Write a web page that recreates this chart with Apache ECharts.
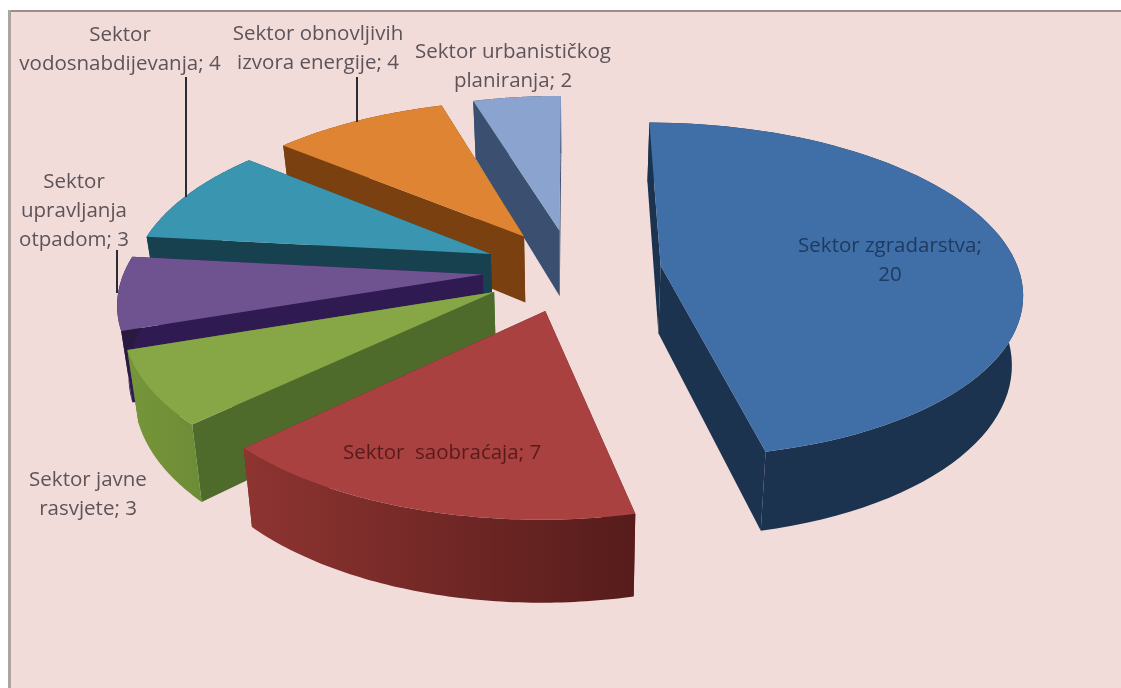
<!DOCTYPE html>
<html><head><meta charset="utf-8">
<style>html,body{margin:0;padding:0;background:#fff}#c{width:1121px;height:688px}</style>
<script src="https://cdn.jsdelivr.net/npm/echarts@6/dist/echarts.min.js"></script>
</head><body><div id="c"></div>
<script>
// ---- data
const categories = ['Sektor zgradarstva','Sektor saobraćaja','Sektor javne rasvjete','Sektor upravljanja otpadom','Sektor vodosnabdijevanja','Sektor obnovljivih izvora energije','Sektor urbanističkog planiranja'];
const values = [20,7,3,3,4,4,2];
const labelTexts = ['Sektor zgradarstva;\n20','Sektor  saobraćaja; 7','Sektor javne\nrasvjete; 3','Sektor\nupravljanja\notpadom; 3','Sektor\nvodosnabdijevanja; 4','Sektor obnovljivih\nizvora energije; 4','Sektor urbanističkog\nplaniranja; 2'];
// ---- style tables
const topColors  = ['#3f6fa6','#a8413f','#87a746','#6f5290','#3a96b0','#df8432','#8ba4cf'];
const sideColors = ['#1c3350','#6a2220','#4f6b2c','#2f1a52','#17414f','#7a4010','#3b4f70'];
const arcColors  = [['#1c3350','#1c3350'],['#8e3431','#561c1b'],['#76963a','#6d8c36'],['#2a1a40','#2a1a40'],['#17414f','#17414f'],['#7a4010','#7a4010'],['#3b4f70','#3b4f70']];
const textColors = ['#1f3a60','#5a1a1c','#5d5359','#5d5359','#5d5359','#5d5359','#5d5359'];
const labelCenters = [[890,261],[442,453],[88,495],[74,211],[120,50],[318,49],[513,67]];
const leaders = [null,null,null,[117,250,117,293],[186,77,186,197],[357,77,357,122],null];
const explodeBySlice = [0.25,0.25,0.25,0.25,0.25,0.25,0.25];
// ---- projection of the tilted pie
const view = {cx:572, cy:270, A:358, B:165, p:0.146, h:68, converge:0.025};
function project(X,Y,drop){
  const w = 1 - view.p*Y;
  const x = view.cx + view.A*X/w;
  return [x - view.converge*(x-view.cx)*drop/view.h, view.cy + view.B*Y/w + drop/w];
}
const total = values.reduce((a,b)=>a+b,0);
function renderItem(params, api){
  const i = api.value(0), v = api.value(1);
  let sum = 0; for(let k=0;k<i;k++) sum += values[k];
  const a0 = sum/total*2*Math.PI, a1 = (sum+v)/total*2*Math.PI, m = (a0+a1)/2;
  const X0 = explodeBySlice[i]*Math.sin(m), Y0 = -explodeBySlice[i]*Math.cos(m);
  const n = 72, arc = [];
  for(let k=0;k<=n;k++){
    const a = a0+(a1-a0)*k/n;
    arc.push([X0+Math.sin(a), Y0-Math.cos(a)]);
  }
  const poly = (pts,fill)=>({type:'polygon',shape:{points:pts},style:{fill:fill},silent:true});
  const P = (q,d)=>project(q[0],q[1],d);
  const apex=[X0,Y0], first=arc[0], last=arc[n], h=view.h;
  const children=[];
  children.push(poly([P(apex,0),P(first,0),P(first,h),P(apex,h)],sideColors[i]));
  children.push(poly([P(apex,0),P(last,0),P(last,h),P(apex,h)],sideColors[i]));
  const wall = arc.map(q=>P(q,0)).concat(arc.slice().reverse().map(q=>P(q,h)));
  children.push(poly(wall,{type:'linear',x:0,y:0,x2:1,y2:0,colorStops:[{offset:0,color:arcColors[i][0]},{offset:1,color:arcColors[i][1]}]}));
  children.push(poly([P(apex,0)].concat(arc.map(q=>P(q,0))),topColors[i]));
  if(leaders[i]){
    const l=leaders[i];
    children.push({type:'line',shape:{x1:l[0],y1:l[1],x2:l[2],y2:l[3]},style:{stroke:'#2b2b33',lineWidth:2},silent:true});
  }
  children.push({type:'text',x:labelCenters[i][0],y:labelCenters[i][1],silent:true,
    style:{text:labelTexts[i],fill:textColors[i],font:'20.5px "Open Sans"',align:'center',verticalAlign:'middle',lineHeight:29}});
  return {type:'group',children:children};
}
const chart = echarts.init(document.getElementById('c'),null,{renderer:'canvas'});
chart.setOption({
  animation:false,
  backgroundColor:'#fff',
  graphic:[
    {type:'rect',z:-10,shape:{x:8,y:10,width:1113,height:678},style:{fill:'#f1dcda'}},
    {type:'rect',z:-9,shape:{x:8,y:10,width:1113,height:2},style:{fill:'#a38a88'}},
    {type:'rect',z:-9,shape:{x:8,y:10,width:3,height:678},style:{fill:'#aaa5a0'}}
  ],
  series:[{type:'custom',coordinateSystem:'none',renderItem:renderItem,
    data:categories.map((c,i)=>({name:c,value:[i,values[i]]})).reverse()}]
});
</script></body></html>
